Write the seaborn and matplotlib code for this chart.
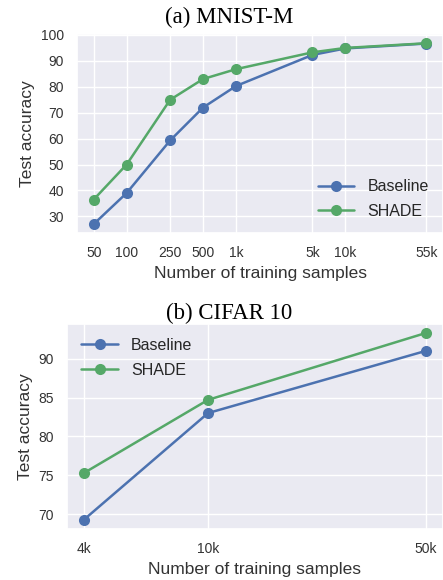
import numpy as np
import pandas as pd
import matplotlib
matplotlib.use("Agg")
import matplotlib.pyplot as plt
from matplotlib.ticker import NullLocator
import seaborn as sns

# MNIST-M results
mnist_samples = [50, 100, 250, 500, 1000, 5000, 10000, 55000]
mnist_ticklabels = ["50", "100", "250", "500", "1k", "5k", "10k", "55k"]
mnist_baseline = [27.0, 39.0, 59.3, 72.0, 80.3, 92.3, 94.8, 96.7]
mnist_shade = [36.5, 50.0, 75.0, 83.0, 86.8, 93.3, 95.0, 96.8]

# CIFAR 10 results
cifar_samples = [4000, 10000, 50000]
cifar_ticklabels = ["4k", "10k", "50k"]
cifar_baseline = [69.3, 83.0, 91.0]
cifar_shade = [75.3, 84.7, 93.3]

methods = ["Baseline", "SHADE"]

sns.set_theme(style="darkgrid")
plt.rcParams["font.family"] = ["Liberation Sans", "DejaVu Sans"]
palette = sns.color_palette("deep")
colors = [palette[0], palette[2]]

fig = plt.figure(figsize=(4.43, 5.8), dpi=100)
ax1 = fig.add_axes([0.174, 0.598, 0.826, 0.343])
ax2 = fig.add_axes([0.151, 0.088, 0.849, 0.354])


def draw(ax, samples, ticklabels, baseline, shade, legend_loc):
    df = pd.DataFrame({
        "samples": samples * 2,
        "acc": baseline + shade,
        "method": [methods[0]] * len(samples) + [methods[1]] * len(samples),
    })
    sns.lineplot(data=df, x="samples", y="acc", hue="method", palette=colors,
                 marker="o", markersize=8, markeredgewidth=0, linewidth=1.8, ax=ax)
    ax.set_xscale("log")
    ax.set_xticks(samples)
    ax.set_xticklabels(ticklabels)
    ax.xaxis.set_minor_locator(NullLocator())
    ax.tick_params(labelsize=10, colors="#333333")
    ax.set_xlabel("Number of training samples", fontsize=12.5, color="#333333")
    ax.set_ylabel("Test accuracy", fontsize=12.5, color="#333333")
    ax.legend(title=None, loc=legend_loc, fontsize=11.5, frameon=False,
              handlelength=2.3, labelspacing=0.6)


draw(ax1, mnist_samples, mnist_ticklabels, mnist_baseline, mnist_shade, "lower right")
ax1.set_yticks([30, 40, 50, 60, 70, 80, 90, 100])
draw(ax2, cifar_samples, cifar_ticklabels, cifar_baseline, cifar_shade, "upper left")
ax2.set_yticks([70, 75, 80, 85, 90])

# subfigure captions
fig.text(0.517, 0.960, "(a) MNIST-M", ha="center", va="baseline",
         fontsize=16.5, family=["Liberation Serif"], color="black")
fig.text(0.517, 0.450, "(b) CIFAR 10", ha="center", va="baseline",
         fontsize=16.5, family=["Liberation Serif"], color="black")

fig.savefig("out.png", dpi=100)
